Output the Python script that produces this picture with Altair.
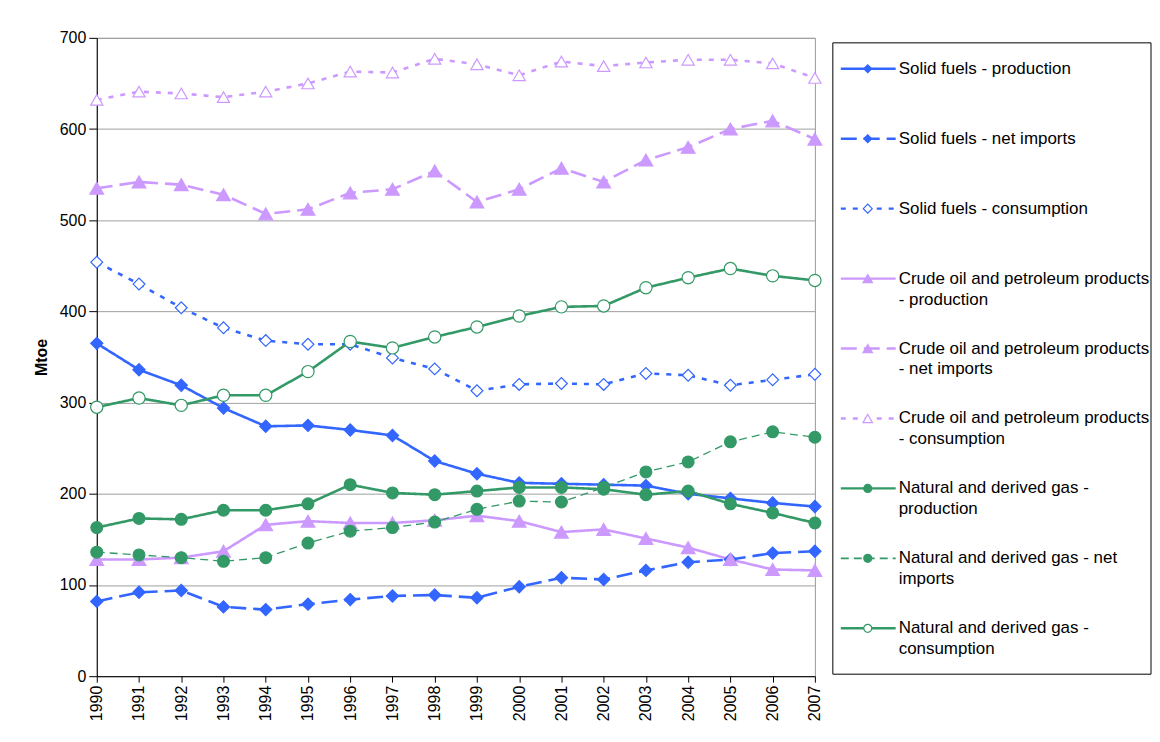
import altair as alt
import pandas as pd

FONT = "Liberation Sans"

years = [str(y) for y in range(1990, 2008)]

series_names = [
    "Solid fuels - production",
    "Solid fuels - net imports",
    "Solid fuels - consumption",
    "Crude oil and petroleum products - production",
    "Crude oil and petroleum products - net imports",
    "Crude oil and petroleum products - consumption",
    "Natural and derived gas - production",
    "Natural and derived gas - net imports",
    "Natural and derived gas - consumption",
]

legend_line1 = [
    "Solid fuels - production",
    "Solid fuels - net imports",
    "Solid fuels - consumption",
    "Crude oil and petroleum products",
    "Crude oil and petroleum products",
    "Crude oil and petroleum products",
    "Natural and derived gas -",
    "Natural and derived gas - net",
    "Natural and derived gas -",
]
legend_line2 = ["", "", "", "- production", "- net imports", "- consumption",
                "production", "imports", "consumption"]

sf_prod = [365, 336, 319, 294, 274, 275, 270, 264, 236, 222, 212, 211, 210, 209, 200, 195, 190, 186]
sf_imp = [82, 92, 94, 76, 73, 79, 84, 88, 89, 86, 98, 108, 106, 116, 125, 128, 135, 137]
sf_cons = [454, 430, 404, 382, 368, 364, 364, 349, 337, 313, 320, 321, 320, 332, 330, 319, 325, 331]
oil_prod = [128, 128, 130, 137, 166, 170, 168, 168, 171, 176, 170, 158, 161, 151, 141, 128, 117, 116]
oil_imp = [535, 542, 539, 528, 507, 512, 530, 534, 554, 520, 534, 557, 542, 566, 580, 600, 609, 589]
oil_cons = [632, 641, 639, 635, 641, 650, 663, 662, 677, 671, 659, 674, 669, 673, 676, 676, 672, 656]
gas_prod = [163, 173, 172, 182, 182, 189, 210, 201, 199, 203, 207, 207, 205, 199, 203, 189, 179, 168]
gas_imp = [136, 133, 130, 126, 130, 146, 159, 163, 169, 183, 192, 191, 207, 224, 235, 257, 268, 262]
gas_cons = [295, 305, 297, 308, 308, 334, 367, 360, 372, 383, 395, 405, 406, 426, 437, 447, 439, 434]

all_values = [sf_prod, sf_imp, sf_cons, oil_prod, oil_imp, oil_cons, gas_prod, gas_imp, gas_cons]

BLUE = "#3366FF"
LAV = "#CC99FF"
GREEN = "#339966"

colors = [BLUE, BLUE, BLUE, LAV, LAV, LAV, GREEN, GREEN, GREEN]
fills = [BLUE, BLUE, "white", LAV, LAV, "white", GREEN, GREEN, "white"]
shapes = ["diamond", "diamond", "diamond", "triangle-up", "triangle-up", "triangle-up",
          "circle", "circle", "circle"]
dashes = [[1, 0], [16, 7], [5, 7], [1, 0], [16, 7], [5, 7], [1, 0], [8, 5], [1, 0]]
widths = [2.6, 2.6, 2.6, 2.6, 2.6, 2.6, 2.6, 1.3, 2.6]
legend_widths = [2.4, 2.4, 2.4, 2.4, 2.4, 2.4, 2.4, 1.6, 2.4]
sizes = [150, 150, 140, 190, 190, 150, 140, 140, 150]
legend_sizes = [64, 64, 80, 90, 90, 90, 64, 64, 64]

rows = []
for name, vals in zip(series_names, all_values):
    for yr, v in zip(years, vals):
        rows.append({"series": name, "year": yr, "value": v})
df = pd.DataFrame(rows)

leg_df = pd.DataFrame({
    "series": series_names,
    "idx": list(range(len(series_names))),
    "line1": legend_line1,
    "line2": legend_line2,
})

def sc(rng, ordinal=False):
    if ordinal:
        return alt.Scale(type="ordinal", domain=series_names, range=rng)
    return alt.Scale(domain=series_names, range=rng)

x_enc = alt.X("year:O", scale=alt.Scale(type="point", padding=0),
              axis=alt.Axis(title=None, labelAngle=270, labelFontSize=16, labelPadding=3,
                            tickSize=6, grid=False))
y_enc = alt.Y("value:Q", scale=alt.Scale(domain=[0, 700], nice=False),
              axis=alt.Axis(title="Mtoe", values=[0, 100, 200, 300, 400, 500, 600, 700],
                            labelFontSize=16, labelPadding=3, tickSize=8, grid=True,
                            titleFontSize=16, titleFontWeight="bold", titlePadding=10))

base = alt.Chart(df)
lines = base.mark_line().encode(
    x=x_enc, y=y_enc,
    color=alt.Color("series:N", scale=sc(colors), legend=None),
    strokeDash=alt.StrokeDash("series:N", scale=sc(dashes), legend=None),
    strokeWidth=alt.StrokeWidth("series:N", scale=sc(widths, True), legend=None),
)
points = base.mark_point(opacity=1, strokeWidth=1.2).encode(
    x=x_enc, y=y_enc,
    shape=alt.Shape("series:N", scale=sc(shapes), legend=None),
    stroke=alt.Stroke("series:N", scale=sc(colors), legend=None),
    fill=alt.Fill("series:N", scale=sc(fills), legend=None),
    size=alt.Size("series:N", scale=sc(sizes, True), legend=None),
)
main = alt.layer(lines, points).properties(width=720, height=640)

ly = alt.Y("idx:Q", scale=alt.Scale(domain=[-0.442, 8.656], reverse=True, nice=False, zero=False),
           axis=None)
lbase = alt.Chart(leg_df)
frame = lbase.mark_rect(fill="white", stroke="black", strokeWidth=1).encode(
    x=alt.value(0), x2=alt.value(319), y=alt.value(5), y2=alt.value(638)
).transform_filter("datum.idx == 0")
lrule = lbase.mark_rule().encode(
    x=alt.value(8), x2=alt.value(63), y=ly,
    color=alt.Color("series:N", scale=sc(colors), legend=None),
    strokeDash=alt.StrokeDash("series:N", scale=sc(dashes), legend=None),
    strokeWidth=alt.StrokeWidth("series:N", scale=sc(legend_widths, True), legend=None),
)
lpoint = lbase.mark_point(opacity=1, strokeWidth=1.2).encode(
    x=alt.value(35), y=ly,
    shape=alt.Shape("series:N", scale=sc(shapes), legend=None),
    stroke=alt.Stroke("series:N", scale=sc(colors), legend=None),
    fill=alt.Fill("series:N", scale=sc(fills), legend=None),
    size=alt.Size("series:N", scale=sc(legend_sizes, True), legend=None),
)
ltext1 = lbase.mark_text(align="left", baseline="middle", fontSize=17, font=FONT,
                         color="black").encode(x=alt.value(66), y=ly, text="line1:N")
ltext2 = lbase.mark_text(align="left", baseline="middle", fontSize=17, font=FONT,
                         color="black", dy=21).encode(x=alt.value(66), y=ly, text="line2:N")
legend = alt.layer(frame, lrule, lpoint, ltext1, ltext2).properties(
    width=319, height=638, view=alt.ViewBackground(strokeOpacity=0)
).resolve_scale(color="independent", stroke="independent", fill="independent",
                shape="independent", size="independent", strokeDash="independent",
                strokeWidth="independent")

chart = alt.hconcat(main, legend, spacing=18, bounds="flush").resolve_scale(
    x="independent", y="independent", color="independent", stroke="independent",
    fill="independent", shape="independent", size="independent",
    strokeDash="independent", strokeWidth="independent"
).properties(
    padding={"left": 24, "top": 20, "right": 0, "bottom": 0}
).configure_view(
    stroke="#999999", strokeWidth=1
).configure_axis(
    labelFont=FONT, titleFont=FONT, labelColor="black", titleColor="black",
    domainColor="black", tickColor="black", gridColor="#A0A0A0", domainWidth=1
)

chart.save("out.html", embed_options={"renderer": "svg", "actions": False})
